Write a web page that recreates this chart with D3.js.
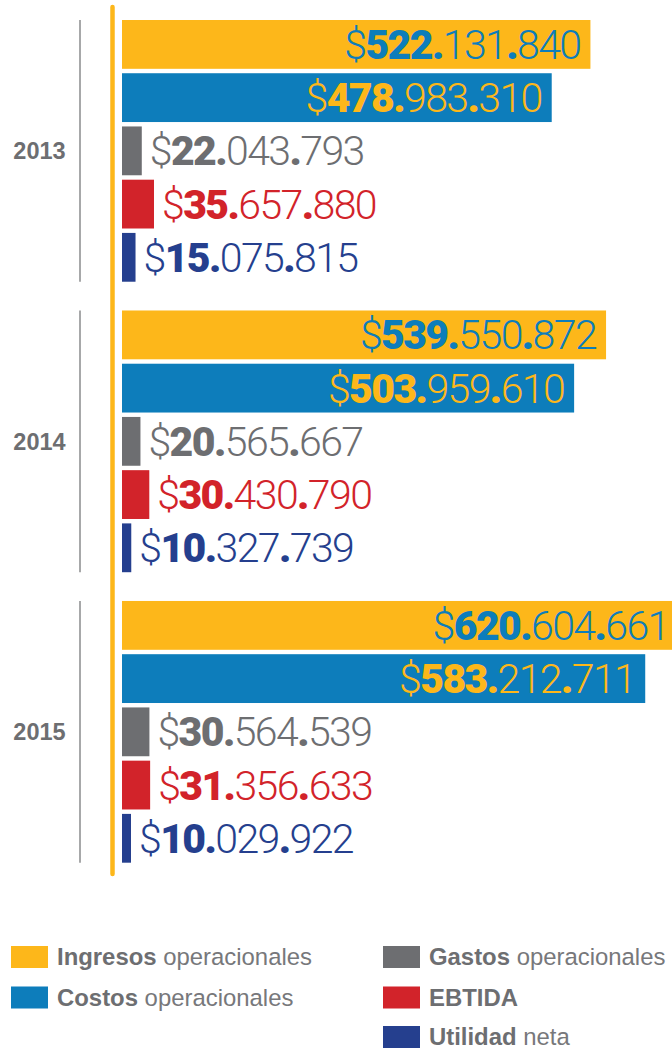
<!DOCTYPE html>
<html>
<head>
<meta charset="utf-8">
<script src="https://cdn.jsdelivr.net/npm/d3@7"></script>
<style>
  html, body { margin: 0; padding: 0; background: #fff; }
  svg { display: block; }
</style>
</head>
<body>
<svg id="chart" width="672" height="1050"></svg>
<script>
// Resultados financieros por año (pesos)
const years = ["2013", "2014", "2015"];
const seriesKeys = ["ingresos", "costos", "gastos", "ebtida", "utilidad"];
const ingresos = [522131840, 539550872, 620604661];
const costos   = [478983310, 503959610, 583212711];
const gastos   = [22043793, 20565667, 30564539];
const ebtida   = [35657880, 30430790, 31356633];
const utilidad = [15075815, 10327739, 10029922];

const legendBold = ["Ingresos", "Costos", "Gastos", "EBTIDA", "Utilidad"];
const legendRest = [" operacionales", " operacionales", " operacionales", "", " neta"];

const valuesByKey = { ingresos, costos, gastos, ebtida, utilidad };

const barColor = {
  ingresos: "#fdb71a", costos: "#0d7dbb", gastos: "#6d6e71",
  ebtida: "#d2232a", utilidad: "#253f8e"
};
const textColor = {
  ingresos: "#0d7dbb", costos: "#fdb71a", gastos: "#6d6e71",
  ebtida: "#d2232a", utilidad: "#253f8e"
};

const svg = d3.select("#chart");

// Escalas
const x = d3.scaleLinear().domain([0, 700e6]).range([122, 750]);
const yGroup = d3.scaleBand().domain(years).range([20, 862.7]).paddingInner(0.099).paddingOuter(0);
const yBar = d3.scaleBand().domain(seriesKeys).range([0, yGroup.bandwidth()]).paddingInner(0.083).paddingOuter(0);

// Formato con separador de miles "."
const fmt = d3.formatLocale({ decimal: ",", thousands: ".", grouping: [3], currency: ["$", ""] }).format(",d");

const valueFont = "Roboto, 'Liberation Sans', sans-serif";
const valueSize = 41;

const rows = [];
years.forEach((yr, i) => {
  seriesKeys.forEach(k => rows.push({ year: yr, key: k, value: valuesByKey[k][i] }));
});

const plot = svg.append("g");

// Líneas grises de cada grupo y etiquetas de año
const groups = plot.selectAll("g.year").data(years).join("g").attr("class", "year");
groups.append("line")
  .attr("x1", 80).attr("x2", 80)
  .attr("y1", d => yGroup(d))
  .attr("y2", d => yGroup(d) + yGroup.bandwidth())
  .attr("stroke", "#8a8b8d").attr("stroke-width", 1.5);
groups.append("text")
  .attr("x", 39.5)
  .attr("y", d => yGroup(d) + yGroup.bandwidth() / 2)
  .attr("dy", "0.36em")
  .attr("text-anchor", "middle")
  .attr("font-family", "'Liberation Sans', Arial, sans-serif")
  .attr("font-weight", "bold")
  .attr("font-size", 23.5)
  .attr("fill", "#6d6e71")
  .text(d => d);

// Barras
plot.selectAll("rect.bar").data(rows).join("rect")
  .attr("class", "bar")
  .attr("x", x(0))
  .attr("y", d => yGroup(d.year) + yBar(d.key))
  .attr("width", d => x(d.value) - x(0))
  .attr("height", yBar.bandwidth())
  .attr("fill", d => barColor[d.key]);

// Eje vertical amarillo
svg.append("line")
  .attr("x1", 112.5).attr("x2", 112.5)
  .attr("y1", 7).attr("y2", 874)
  .attr("stroke", "#fdb71a").attr("stroke-width", 4.5)
  .attr("stroke-linecap", "round");

// Etiquetas de valor: "$" y miles en trazo fino, millones y puntos en negrita
plot.selectAll("text.val").data(rows).join("text")
  .attr("class", "val")
  .attr("font-family", valueFont)
  .attr("font-size", valueSize)
  .attr("letter-spacing", -1.6)
  .attr("fill", d => textColor[d.key])
  .attr("y", d => yGroup(d.year) + yBar(d.key) + yBar.bandwidth() / 2 + valueSize * 0.355)
  .each(function (d) {
    const inside = (x(d.value) - x(0)) > 300;
    const t = d3.select(this)
      .attr("x", inside ? x(d.value) - 10 : x(d.value) + 8)
      .attr("text-anchor", inside ? "end" : "start");
    const p = fmt(d.value).split(".");
    const pieces = [
      ["$", 300], [p[0] + ".", 900], [p[1], 300], [".", 900], [p[2], 300]
    ];
    pieces.forEach(([s, w]) => t.append("tspan").attr("font-weight", w).text(s));
  });

// Leyenda
const legendX = [11, 383];
const legendY = [946, 986.5, 1026];
const legendPos = [[0, 0], [0, 1], [1, 0], [1, 1], [1, 2]];
const legend = svg.append("g").selectAll("g").data(seriesKeys).join("g")
  .attr("transform", (d, i) => `translate(${legendX[legendPos[i][0]]},${legendY[legendPos[i][1]]})`);
legend.append("rect")
  .attr("width", 37).attr("height", 22)
  .attr("fill", d => barColor[d]);
const lt = legend.append("text")
  .attr("x", 46).attr("y", 11).attr("dy", "0.35em")
  .attr("font-family", "'Liberation Sans', Arial, sans-serif")
  .attr("font-size", 23.9)
  .attr("fill", "#6d6e71");
lt.append("tspan").attr("font-weight", "bold").text((d, i) => legendBold[i]);
lt.append("tspan").attr("font-weight", "normal").attr("fill", "#77787b").text((d, i) => legendRest[i]);
</script>
</body>
</html>
